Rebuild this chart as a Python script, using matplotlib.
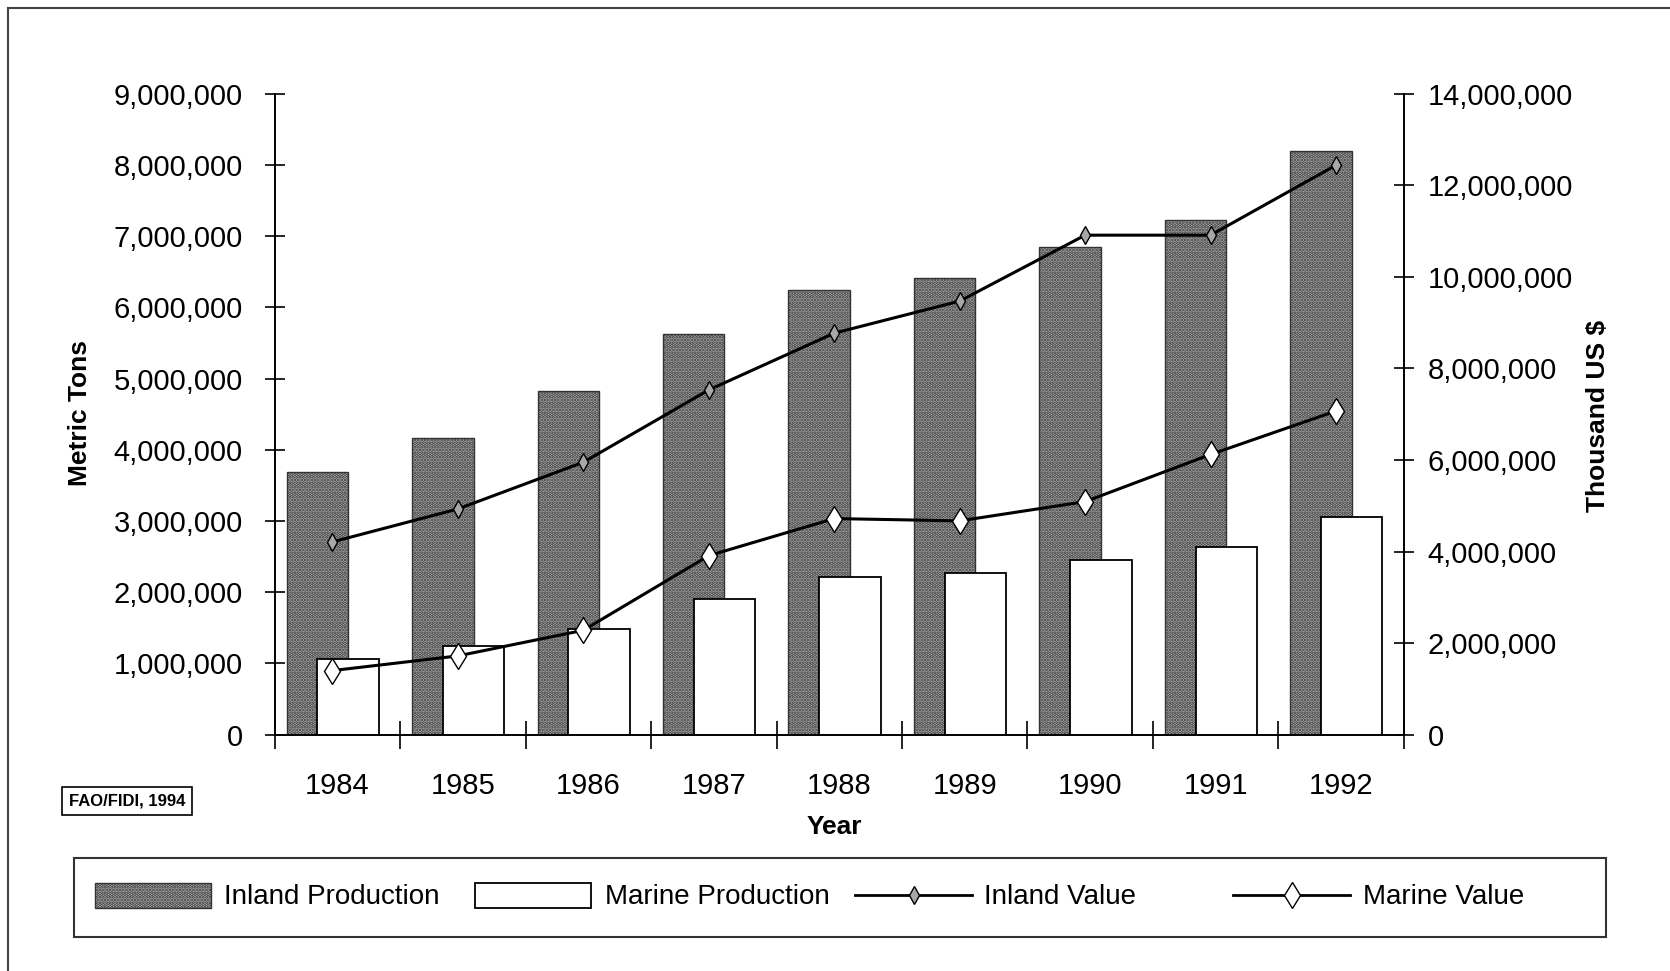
import numpy as np
import matplotlib.pyplot as plt
from matplotlib.patches import Rectangle
from matplotlib.lines import Line2D
from matplotlib.ticker import FuncFormatter

# data
years = ['1984', '1985', '1986', '1987', '1988', '1989', '1990', '1991', '1992']
inland_prod = [3690000, 4170000, 4830000, 5620000, 6250000, 6410000, 6850000, 7220000, 8190000]
marine_prod = [1060000, 1240000, 1480000, 1910000, 2210000, 2270000, 2450000, 2630000, 3050000]
inland_value = [4210000, 4930000, 5950000, 7530000, 8770000, 9470000, 10910000, 10910000, 12440000]
marine_value = [1400000, 1720000, 2280000, 3910000, 4720000, 4670000, 5090000, 6120000, 7070000]

plt.rcParams['font.family'] = ['Liberation Sans', 'DejaVu Sans']
plt.rcParams['hatch.linewidth'] = 1.8

inland_face = '#b8b8b8'
inland_edge = '#333333'

fig = plt.figure(figsize=(16.7, 9.71), dpi=100)
ax = fig.add_axes([0.1645, 0.2434, 0.6761, 0.6601])
ax2 = ax.twinx()

x = np.arange(len(years))
ax.bar(x - 0.16, inland_prod, width=0.49, facecolor=inland_face, edgecolor=inland_edge,
       hatch='.....', linewidth=1, zorder=2)
ax.bar(x + 0.085, marine_prod, width=0.49, facecolor='white', edgecolor='black',
       linewidth=1.3, zorder=3)

ax2.plot(x - 0.04, inland_value, color='black', lw=2.2, marker='d', ms=9,
         mfc='#a8a8a8', mec='black', mew=1)
ax2.plot(x - 0.04, marine_value, color='black', lw=2.2, marker='d', ms=13,
         mfc='white', mec='black', mew=1)

ax.set_xlim(-0.5, len(years) - 0.5)
ax.set_ylim(0, 9000000)
ax2.set_ylim(0, 14000000)

fmt = FuncFormatter(lambda v, p: '{:,.0f}'.format(v))
ax.set_yticks(np.arange(0, 9000001, 1000000))
ax.yaxis.set_major_formatter(fmt)
ax2.set_yticks(np.arange(0, 14000001, 2000000))
ax2.yaxis.set_major_formatter(fmt)

for a in (ax, ax2):
    a.spines['top'].set_visible(False)
    for s in a.spines.values():
        s.set_linewidth(1.2)

ax.tick_params(axis='y', direction='inout', length=14, width=1.2, labelsize=21, pad=16)
ax2.tick_params(axis='y', direction='inout', length=14, width=1.2, labelsize=21, pad=10)

# category boundaries get the tick marks, year labels sit between them
ax.set_xticks(np.arange(-0.5, len(years), 1.0))
ax.set_xticklabels([])
ax.set_xticks(x, minor=True)
ax.set_xticklabels(years, minor=True, fontsize=21)
ax.tick_params(axis='x', which='major', direction='inout', length=20, width=1.2)
ax.tick_params(axis='x', which='minor', length=0, pad=27)
ax2.tick_params(axis='x', which='both', length=0)

fig.text(0.048, 0.575, 'Metric Tons', rotation=90, ha='center', va='center',
         fontsize=19, fontweight='bold')
fig.text(0.957, 0.572, 'Thousand US $', rotation=90, ha='center', va='center',
         fontsize=19, fontweight='bold')
fig.text(0.4994, 0.148, 'Year', ha='center', va='center', fontsize=19,
         fontweight='bold')

fig.text(0.0759, 0.1754, 'FAO/FIDI, 1994', ha='center', va='center', fontsize=12,
         fontweight='bold',
         bbox=dict(boxstyle='square,pad=0.4', facecolor='white', edgecolor='black', linewidth=1.2))

# outer frame (left and top visible)
fig.add_artist(Line2D([0.005, 0.005], [0.0, 0.992], color='#444444', lw=1.5))
fig.add_artist(Line2D([0.005, 1.0], [0.992, 0.992], color='#444444', lw=1.5))

# legend box drawn by hand so the four entries sit at even spacing
fig.add_artist(Rectangle((0.0446, 0.0351), 0.9171, 0.0811, transform=fig.transFigure,
                         facecolor='white', edgecolor='#333333', lw=1.5))
ly = 1 - 841 / 912
ph = 24 / 912
pw = 109 / 1568
fig.add_artist(Rectangle((89 / 1568, ly - ph / 2), pw, ph, transform=fig.transFigure,
                         facecolor=inland_face, edgecolor=inland_edge, hatch='.....', lw=1))
fig.add_artist(Rectangle((446 / 1568, ly - ph / 2), pw, ph, transform=fig.transFigure,
                         facecolor='white', edgecolor='black', lw=1.3))
fig.add_artist(Line2D([803 / 1568, 913 / 1568], [ly, ly], color='black', lw=2))
fig.add_artist(Line2D([858 / 1568], [ly], marker='d', ms=9, mfc='#a8a8a8', mec='black', mew=1))
fig.add_artist(Line2D([1158 / 1568, 1268 / 1568], [ly, ly], color='black', lw=2))
fig.add_artist(Line2D([1213 / 1568], [ly], marker='d', ms=13, mfc='white', mec='black', mew=1))

labels = ['Inland Production', 'Marine Production', 'Inland Value', 'Marine Value']
label_x = [210, 568, 924, 1280]
for lab, lx in zip(labels, label_x):
    fig.text(lx / 1568, ly - 0.002, lab, ha='left', va='center', fontsize=20)

fig.savefig('out.png', dpi=100, facecolor='white')
